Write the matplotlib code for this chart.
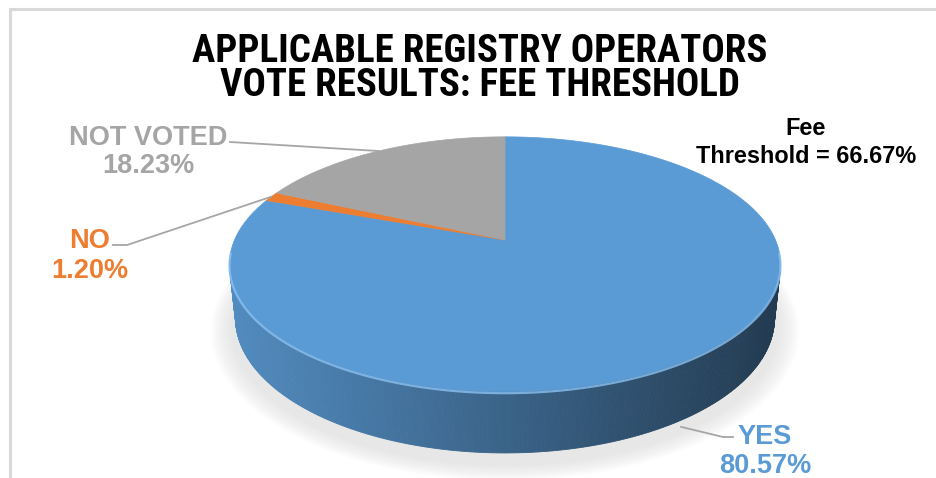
import numpy as np
import matplotlib
matplotlib.use('Agg')
import matplotlib.pyplot as plt
from matplotlib.patches import Polygon
from matplotlib.colors import to_rgb

# ---- data ----
labels = ['YES', 'NO', 'NOT VOTED']
values = [80.57, 1.20, 18.23]
pct_labels = ['80.57%', '1.20%', '18.23%']
colors = ['#5B9BD5', '#ED7D31', '#A5A5A5']
title_lines = ['APPLICABLE REGISTRY OPERATORS', 'VOTE RESULTS: FEE THRESHOLD']
note_lines = ['Fee', 'Threshold = 66.67%']

W, H = 937, 478
fig = plt.figure(figsize=(9.37, 4.78), dpi=100)
ax = fig.add_axes([0, 0, 1, 1])
ax.set_xlim(0, W)
ax.set_ylim(H, 0)
ax.axis('off')

# frame
ax.plot([10, 10, W], [H, 9, 9], color='#D9D9D9', lw=2.2, solid_joinstyle='miter', zorder=0)

# ---- 3D projection of the pie ----
elev = np.deg2rad(27)
D, f, h = 4.68, 1266.0, 0.225
cx, cy = 505.0, 240.0

def proj(X, Y, z):
    yc = Y * np.sin(elev) + z * np.cos(elev)
    d = D + Y * np.cos(elev) - z * np.sin(elev)
    return cx + f * X / d, cy - f * yc / d

def ring(theta, z, scale=1.0):
    return proj(scale * np.cos(theta), scale * np.sin(theta), z)

total = float(sum(values))
bounds = 90.0 - np.concatenate([[0], np.cumsum(values)]) / total * 360.0
bounds_r = np.deg2rad(bounds)

# soft shadow
tt = np.linspace(0, 2 * np.pi, 300)
for k in range(10):
    s = 1.09 - k * 0.008
    xs, ys = ring(tt, -h - 0.02, s)
    ax.fill(xs, ys + 4, color='#8f8f8f', alpha=0.02, lw=0, zorder=1)

# side walls (only front-facing segments)
thr = -1.0 / (D * np.cos(elev))
n_seg = 720
th = np.linspace(-np.pi * 1.5, np.pi * 0.5, n_seg + 1)
xall, _ = ring(th, 0)
xmin, xmax = xall.min(), xall.max()
for i in range(n_seg):
    a0, a1 = th[i], th[i + 1]
    am = 0.5 * (a0 + a1)
    if np.sin(am) >= thr:
        continue
    deg = np.rad2deg(am)
    idx = 0
    for j in range(len(values)):
        lo, hi = bounds[j + 1], bounds[j]
        if (deg - lo) % 360 <= (hi - lo):
            idx = j
            break
    x0t, y0t = ring(a0, 0)
    x1t, y1t = ring(a1, 0)
    x0b, y0b = ring(a0, -h)
    x1b, y1b = ring(a1, -h)
    t = ((x0t + x1t) / 2 - xmin) / (xmax - xmin)
    fac = 0.90 - 0.52 * t
    col = np.clip(np.array(to_rgb(colors[idx])) * fac, 0, 1)
    ax.add_patch(Polygon([[x0t, y0t], [x1t, y1t], [x1b, y1b], [x0b, y0b]],
                         closed=True, facecolor=col, edgecolor=col, lw=0.6, zorder=2))

# top face wedges
for j in range(len(values)):
    a = np.linspace(bounds_r[j], bounds_r[j + 1], 200)
    xs, ys = ring(a, 0)
    pts = np.vstack([[cx, cy], np.column_stack([xs, ys])])
    ax.add_patch(Polygon(pts, closed=True, facecolor=colors[j], edgecolor=colors[j],
                         lw=0.5, zorder=3))

# rim highlight on front edge
front = np.sort(th[np.sin(th) < thr + 0.15])
xs, ys = ring(front, 0)
ax.plot(xs, ys + 1.5, color='#8cc2f2', lw=1.6, alpha=0.8, zorder=4, solid_capstyle='round')

# ---- text ----
tfont = ['Roboto Condensed', 'Liberation Sans', 'DejaVu Sans']
lfont = ['Liberation Sans', 'DejaVu Sans']
ax.text(480, 62, title_lines[0], ha='center', va='baseline', fontsize=28,
        fontweight='bold', family=tfont, color='black', zorder=6)
ax.text(480, 96, title_lines[1], ha='center', va='baseline', fontsize=28,
        fontweight='bold', family=tfont, color='black', zorder=6)

ax.text(806, 135, note_lines[0], ha='center', va='baseline', fontsize=16.9,
        fontweight='bold', family=lfont, color='black', zorder=6)
ax.text(806, 163, note_lines[1], ha='center', va='baseline', fontsize=16.9,
        fontweight='bold', family=lfont, color='black', zorder=6)

label_pos = {'YES': (765, 444, 473), 'NO': (90, 248, 278), 'NOT VOTED': (148, 145, 173)}
for j, lab in enumerate(labels):
    x, y1, y2 = label_pos[lab]
    ax.text(x, y1, lab, ha='center', va='baseline', fontsize=19.5,
            fontweight='bold', family=lfont, color=colors[j], zorder=6)
    ax.text(x, y2, pct_labels[j], ha='center', va='baseline', fontsize=19.5,
            fontweight='bold', family=lfont, color=colors[j], zorder=6)

# leader lines, anchored at slice mid-angles on the pie
mid = np.deg2rad((bounds[:-1] + bounds[1:]) / 2)
lc = '#A6A6A6'
px, py = ring(mid[2], 0)
ax.plot([230, px], [142, py], color=lc, lw=1.3, zorder=5)
px, py = ring(mid[1], 0)
ax.plot([113, 127, px], [245, 245, py], color=lc, lw=1.3, zorder=5)
px, py = ring(mid[0], -h)
ax.plot([px - 3, 723, 733], [py + 8, 437, 437], color=lc, lw=1.3, zorder=5)

fig.savefig('out.png', dpi=100, facecolor='white')
